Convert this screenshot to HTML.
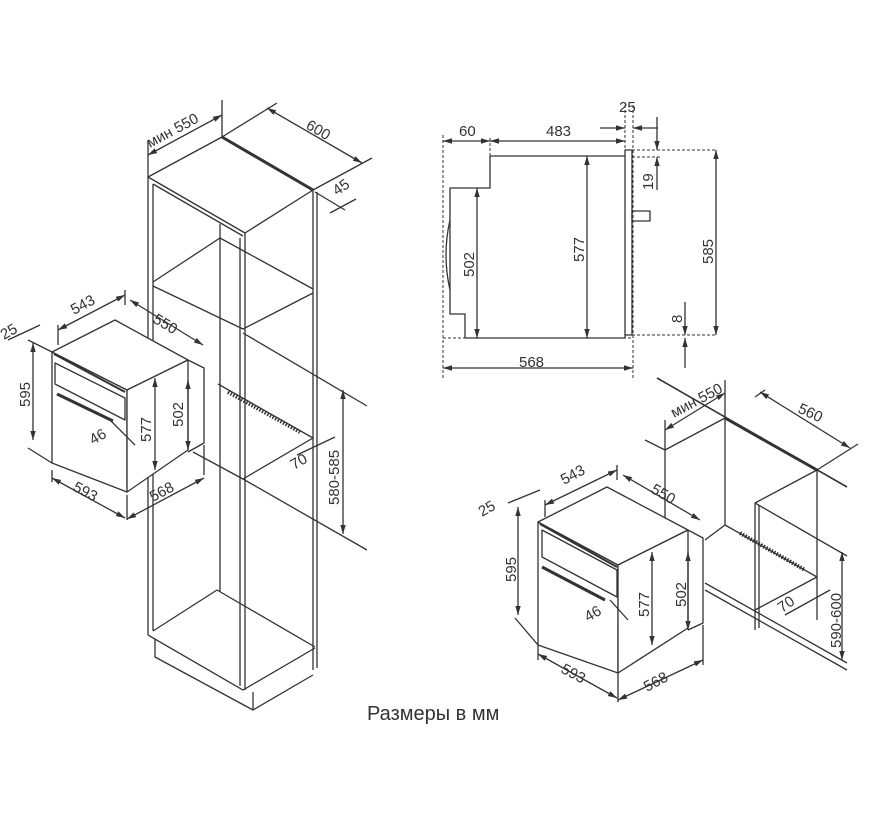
<!DOCTYPE html>
<html><head><meta charset="utf-8"><style>
html,body{margin:0;padding:0;background:#fff;}
svg{display:block}
text{font-family:"Liberation Sans","DejaVu Sans",sans-serif;fill:#333;font-size:15px}
</style></head><body>
<svg width="875" height="835" viewBox="0 0 875 835" xmlns="http://www.w3.org/2000/svg">
<defs>
<marker id="a" viewBox="0 0 10 10" refX="10" refY="5" markerWidth="7" markerHeight="7" orient="auto-start-reverse"><path d="M0,2 L10,5 L0,8 z" fill="#333"/></marker>
</defs>
<g stroke="#333" stroke-width="1.3" fill="none" stroke-linejoin="round">
<polygon points="148,177 222,137 313,190 245,233"/>
<line x1="222" y1="137" x2="313" y2="190" stroke-width="3"/>
<line x1="148" y1="177" x2="148" y2="635"/>
<line x1="153" y1="184" x2="153" y2="631"/>
<line x1="153" y1="184" x2="243" y2="236"/>
<line x1="245" y1="233" x2="245" y2="690"/>
<line x1="240" y1="238" x2="240" y2="686"/>
<line x1="313" y1="190" x2="313" y2="670"/>
<line x1="317" y1="192" x2="317" y2="668"/>
<line x1="220" y1="224" x2="220" y2="592"/>
<polyline points="153,282 220,238 313,289"/>
<polyline points="153,286 243,329 313,293"/>
<polyline points="218,384 313,438 243,479 193,452"/>
<line x1="243" y1="333" x2="367" y2="406"/>
<line x1="243" y1="479" x2="367" y2="550"/>
<line x1="228" y1="392" x2="300" y2="432" stroke-width="4" stroke-dasharray="1.5 1.5"/>
<polyline points="153,631 217,590 315,647"/>
<polyline points="148,635 243,690 315,648"/>
<polyline points="155,639 155,657 253,710 313,675"/>
<line x1="253" y1="692" x2="253" y2="710"/>
<line x1="148" y1="177" x2="148" y2="140"/>
<line x1="222" y1="137" x2="222" y2="100"/>
<line x1="148" y1="155" x2="222" y2="115" marker-start="url(#a)" marker-end="url(#a)"/>
<line x1="222" y1="137" x2="277" y2="103"/>
<line x1="313" y1="190" x2="372" y2="158"/>
<line x1="267" y1="108" x2="362" y2="163" marker-start="url(#a)" marker-end="url(#a)"/>
<line x1="315" y1="192" x2="345" y2="210"/>
<line x1="330" y1="213" x2="356" y2="199"/>
<line x1="343" y1="390" x2="343" y2="534" marker-start="url(#a)" marker-end="url(#a)"/>
<line x1="297" y1="455" x2="335" y2="437"/>
<polygon points="52,352 127,390 127,492 52,463" fill="#fff"/>
<polygon points="52,352 115,320 188,360 127,390" fill="#fff"/>
<polygon points="127,390 188,360 188,450 127,492" fill="#fff"/>
<polyline points="188,360 204,368 204,443 188,452"/>
<polygon points="55,363 125,398 125,420 55,384"/>
<line x1="57" y1="394" x2="113" y2="421" stroke-width="3"/>
<line x1="54" y1="354" x2="125" y2="392" stroke-width="2"/>
<line x1="33" y1="343" x2="33" y2="440" marker-start="url(#a)" marker-end="url(#a)"/>
<line x1="52" y1="352" x2="28" y2="340"/>
<line x1="52" y1="463" x2="28" y2="448"/>
<line x1="8" y1="340" x2="40" y2="325"/>
<line x1="52" y1="470" x2="52" y2="482"/><line x1="127" y1="495" x2="127" y2="520"/>
<line x1="52" y1="478" x2="125" y2="518" marker-start="url(#a)" marker-end="url(#a)"/>
<line x1="127" y1="519" x2="204" y2="478" marker-start="url(#a)" marker-end="url(#a)"/>
<line x1="204" y1="445" x2="204" y2="475"/>
<line x1="58" y1="345" x2="58" y2="325"/><line x1="125" y1="290" x2="125" y2="305"/>
<line x1="58" y1="330" x2="125" y2="295" marker-start="url(#a)" marker-end="url(#a)"/>
<line x1="130" y1="300" x2="203" y2="345" marker-start="url(#a)" marker-end="url(#a)"/>
<line x1="155" y1="378" x2="155" y2="470" marker-start="url(#a)" marker-end="url(#a)"/>
<line x1="188" y1="380" x2="188" y2="450" marker-start="url(#a)" marker-end="url(#a)"/>
<line x1="110" y1="420" x2="135" y2="445"/>
<g stroke-dasharray="3 2" stroke-width="1">
<line x1="443" y1="135" x2="443" y2="378"/><line x1="443" y1="338" x2="633" y2="338"/>
<line x1="632" y1="150" x2="717" y2="150"/><line x1="632" y1="335" x2="717" y2="335"/>
<line x1="490" y1="138" x2="490" y2="156"/>
<line x1="625" y1="105" x2="625" y2="150"/><line x1="633" y1="105" x2="633" y2="378"/>
<line x1="632" y1="157" x2="660" y2="157"/>
</g>
<polyline points="490,156 625,156"/>
<polyline points="490,156 490,188 450,188 450,314 465,314 465,338 625,338 625,150 632,150 632,335 625,335"/>
<rect x="632" y="211" width="18" height="10"/>
<path d="M450,220 Q442,255 450,290"/>
<line x1="443" y1="141" x2="490" y2="141" marker-start="url(#a)" marker-end="url(#a)"/>
<line x1="490" y1="141" x2="625" y2="141" marker-start="url(#a)" marker-end="url(#a)"/>
<line x1="600" y1="128" x2="625" y2="128" marker-end="url(#a)"/>
<line x1="658" y1="128" x2="633" y2="128" marker-end="url(#a)"/>
<line x1="657" y1="117" x2="657" y2="150" marker-end="url(#a)"/>
<line x1="657" y1="190" x2="657" y2="157" marker-end="url(#a)"/>
<line x1="477" y1="188" x2="477" y2="338" marker-start="url(#a)" marker-end="url(#a)"/>
<line x1="587" y1="156" x2="587" y2="338" marker-start="url(#a)" marker-end="url(#a)"/>
<line x1="716" y1="150" x2="716" y2="335" marker-start="url(#a)" marker-end="url(#a)"/>
<line x1="685" y1="302" x2="685" y2="335" marker-end="url(#a)"/>
<line x1="685" y1="368" x2="685" y2="338" marker-end="url(#a)"/>
<line x1="443" y1="368" x2="633" y2="368" marker-start="url(#a)" marker-end="url(#a)"/>
<line x1="657" y1="378" x2="847" y2="487" stroke-width="1.6"/>
<polyline points="665,450 725,418 817,470"/>
<line x1="725" y1="418" x2="817" y2="470" stroke-width="3"/>
<line x1="665" y1="450" x2="665" y2="583"/>
<line x1="725" y1="418" x2="725" y2="525"/>
<polyline points="705,540 725,525 817,577"/>
<line x1="705" y1="583" x2="847" y2="663"/>
<line x1="705" y1="590" x2="847" y2="670"/>
<polyline points="755,503 817,470"/>
<line x1="755" y1="503" x2="755" y2="630"/><line x1="759" y1="505" x2="759" y2="628"/>
<line x1="817" y1="470" x2="817" y2="620"/>
<polyline points="755,610 817,577"/>
<line x1="755" y1="503" x2="847" y2="556"/>
<line x1="740" y1="533" x2="805" y2="570" stroke-width="4" stroke-dasharray="1.5 1.5"/>
<line x1="842" y1="552" x2="842" y2="660" marker-start="url(#a)" marker-end="url(#a)"/>
<line x1="665" y1="450" x2="645" y2="440"/>
<line x1="665" y1="450" x2="665" y2="420"/><line x1="725" y1="418" x2="725" y2="380"/>
<line x1="665" y1="430" x2="725" y2="393" marker-start="url(#a)" marker-end="url(#a)"/>
<line x1="760" y1="392" x2="850" y2="448" marker-start="url(#a)" marker-end="url(#a)"/>
<line x1="817" y1="470" x2="858" y2="444"/>
<line x1="755" y1="397" x2="765" y2="390"/>
<line x1="785" y1="615" x2="830" y2="590"/>
<polygon points="538,522 618,565 618,673 538,645" fill="#fff"/>
<polygon points="538,522 607,487 688,530 618,565" fill="#fff"/>
<polygon points="618,565 688,530 688,628 618,673" fill="#fff"/>
<polyline points="688,530 703,538 703,623 688,630"/>
<polygon points="542,530 617,570 617,597 542,557"/>
<line x1="542" y1="567" x2="605" y2="600" stroke-width="3"/>
<line x1="540" y1="524" x2="617" y2="567" stroke-width="2"/>
<line x1="518" y1="507" x2="518" y2="615" marker-start="url(#a)" marker-end="url(#a)"/>
<line x1="508" y1="503" x2="540" y2="490"/>
<line x1="538" y1="645" x2="515" y2="618"/>
<line x1="538" y1="645" x2="538" y2="660"/>
<line x1="538" y1="654" x2="617" y2="698" marker-start="url(#a)" marker-end="url(#a)"/>
<line x1="618" y1="673" x2="618" y2="702"/>
<line x1="618" y1="700" x2="703" y2="660" marker-start="url(#a)" marker-end="url(#a)"/>
<line x1="703" y1="625" x2="703" y2="665"/>
<line x1="545" y1="517" x2="545" y2="500"/><line x1="617" y1="465" x2="617" y2="480"/>
<line x1="545" y1="505" x2="617" y2="470" marker-start="url(#a)" marker-end="url(#a)"/>
<line x1="623" y1="475" x2="700" y2="520" marker-start="url(#a)" marker-end="url(#a)"/>
<line x1="652" y1="552" x2="652" y2="645" marker-start="url(#a)" marker-end="url(#a)"/>
<line x1="688" y1="552" x2="688" y2="630" marker-start="url(#a)" marker-end="url(#a)"/>
<line x1="610" y1="600" x2="628" y2="620"/>
</g>
<text transform="translate(150,148) rotate(-28)">мин 550</text>
<text transform="translate(305,128) rotate(30)">600</text>
<text transform="translate(337,196) rotate(-35)">45</text>
<text transform="translate(339,505) rotate(-90)">580-585</text>
<text transform="translate(294,470) rotate(-30)">70</text>
<text transform="translate(4,340) rotate(-30)">25</text>
<text transform="translate(74,315) rotate(-28)">543</text>
<text transform="translate(152,322) rotate(30)">550</text>
<text transform="translate(30,407) rotate(-90)">595</text>
<text transform="translate(72,490) rotate(28)">593</text>
<text transform="translate(153,502) rotate(-28)">568</text>
<text transform="translate(183,427) rotate(-90)">502</text>
<text transform="translate(151,442) rotate(-90)">577</text>
<text transform="translate(93,445) rotate(-30)">46</text>
<text x="459" y="136">60</text>
<text x="546" y="136">483</text>
<text x="619" y="112">25</text>
<text transform="translate(653,190) rotate(-90)">19</text>
<text transform="translate(474,277) rotate(-90)">502</text>
<text transform="translate(584,262) rotate(-90)">577</text>
<text transform="translate(713,264) rotate(-90)">585</text>
<text transform="translate(682,323) rotate(-90)">8</text>
<text x="519" y="367">568</text>
<text transform="translate(674,418) rotate(-28)">мин 550</text>
<text transform="translate(797,412) rotate(25)">560</text>
<text transform="translate(782,613) rotate(-35)">70</text>
<text transform="translate(841,648) rotate(-90)">590-600</text>
<text transform="translate(482,517) rotate(-30)">25</text>
<text transform="translate(564,485) rotate(-28)">543</text>
<text transform="translate(650,492) rotate(30)">550</text>
<text transform="translate(516,582) rotate(-90)">595</text>
<text transform="translate(560,672) rotate(28)">593</text>
<text transform="translate(647,692) rotate(-28)">568</text>
<text transform="translate(686,607) rotate(-90)">502</text>
<text transform="translate(649,617) rotate(-90)">577</text>
<text transform="translate(588,622) rotate(-30)">46</text>
<text x="367" y="720" style="font-size:20px">Размеры в мм</text>
</svg>
</body></html>
